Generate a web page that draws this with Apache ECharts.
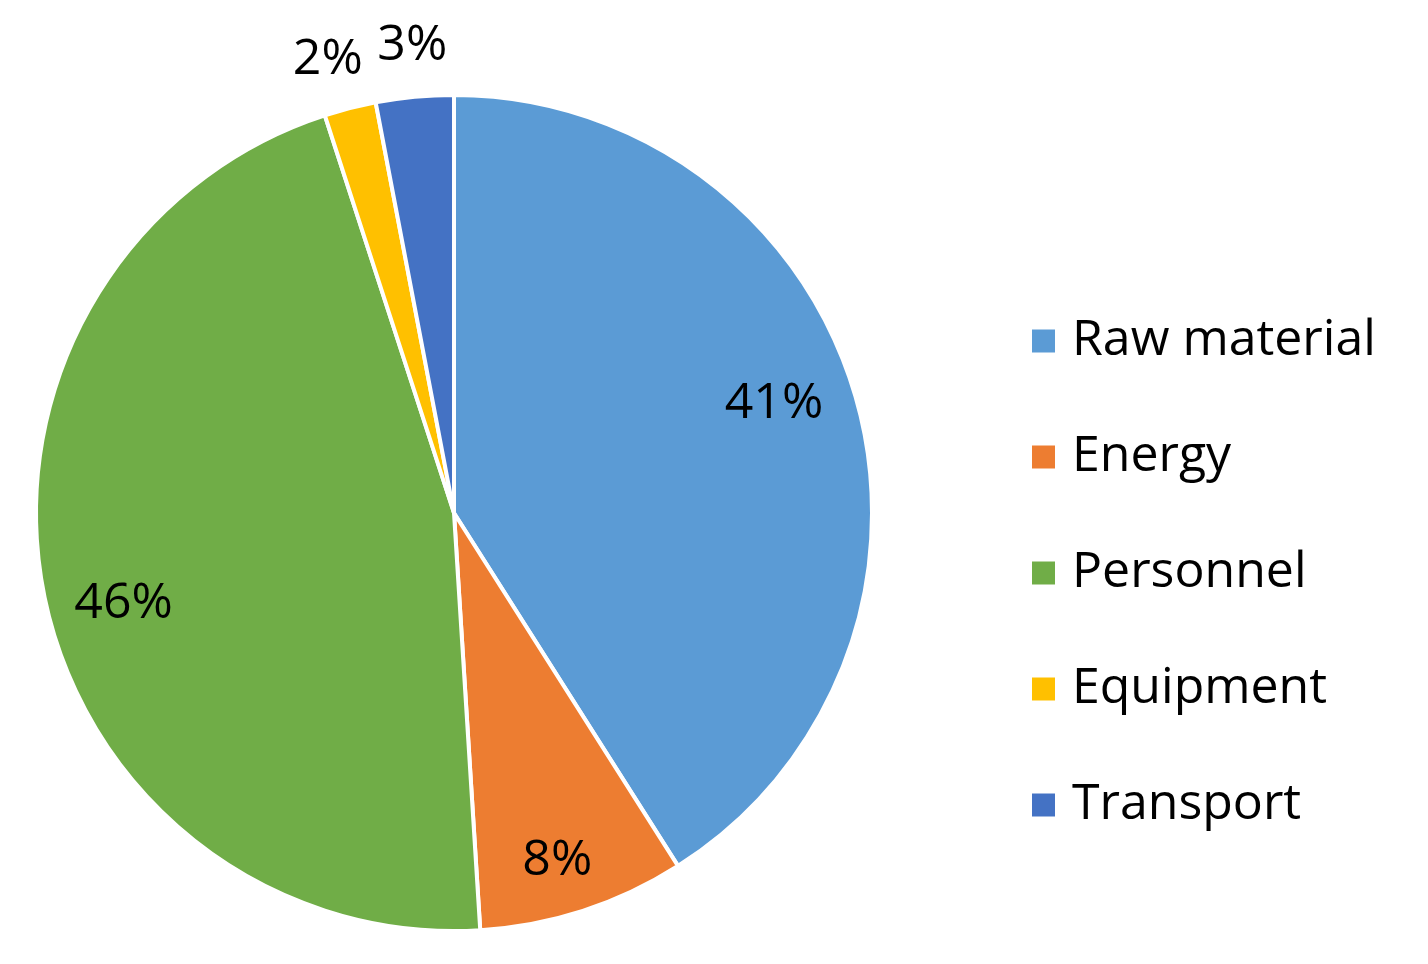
<!DOCTYPE html>
<html>
<head>
<meta charset="utf-8">
<script src="https://cdn.jsdelivr.net/npm/echarts@6/dist/echarts.min.js"></script>
<style>
  html, body { margin: 0; padding: 0; background: #fff; }
  #chart { width: 1428px; height: 964px; }
</style>
</head>
<body>
<div id="chart"></div>
<script>
'use strict';

const categories = ['Raw material', 'Energy', 'Personnel', 'Equipment', 'Transport'];
const shares = [41, 8, 46, 2, 3];
const colors = ['#5B9BD5', '#ED7D31', '#70AD47', '#FFC000', '#4472C4'];
// which slices get their label outside the pie
const outsideLabel = [false, false, false, true, true];

const FONT = '"Open Sans", "Noto Sans", sans-serif';
const center = [454, 513];
const R = 418;
// small nudges so labels sit where the original placed them
const labelNudge = [[-4, -15], [-1, 27], [1, 28], [-8, 7], [3, 6]];

const myChart = echarts.init(document.getElementById('chart'));

const data = categories.map((name, i) => ({
  name,
  value: shares[i],
  itemStyle: { color: colors[i] }
}));

const labelText = {
  show: true,
  position: 'inside',
  formatter: '{c}%',
  color: '#000',
  fontFamily: FONT,
  fontSize: 50
};

const labelSeries = (radius, outside) => ({
  type: 'pie',
  silent: true,
  center,
  radius,
  startAngle: 90,
  clockwise: true,
  itemStyle: { color: 'transparent' },
  emphasis: { disabled: true },
  labelLine: { show: false },
  data: categories.map((name, i) => ({
    name,
    value: shares[i],
    label: Object.assign({}, labelText, {
      show: outsideLabel[i] === outside,
      offset: labelNudge[i]
    })
  }))
});

const option = {
  animation: false,
  legend: {
    orient: 'vertical',
    left: 1030,
    top: 316,
    padding: 0,
    icon: 'rect',
    itemWidth: 25,
    itemHeight: 25,
    itemGap: 66,
    textStyle: { fontFamily: FONT, fontSize: 50, color: '#000', padding: [0, 0, 0, 11] },
    data: categories
  },
  series: [
    {
      type: 'pie',
      center,
      radius: [0, R],
      startAngle: 90,
      clockwise: true,
      label: { show: false },
      labelLine: { show: false },
      itemStyle: { borderColor: '#fff', borderWidth: 4 },
      emphasis: { disabled: true },
      data
    },
    // label carrier for inside labels (ring midpoint ~0.8R)
    labelSeries([R * 0.6, R], false),
    // label carrier for outside labels (~1.13R)
    labelSeries([R * 1.05, R * 1.21], true)
  ]
};

myChart.setOption(option);
</script>
</body>
</html>
